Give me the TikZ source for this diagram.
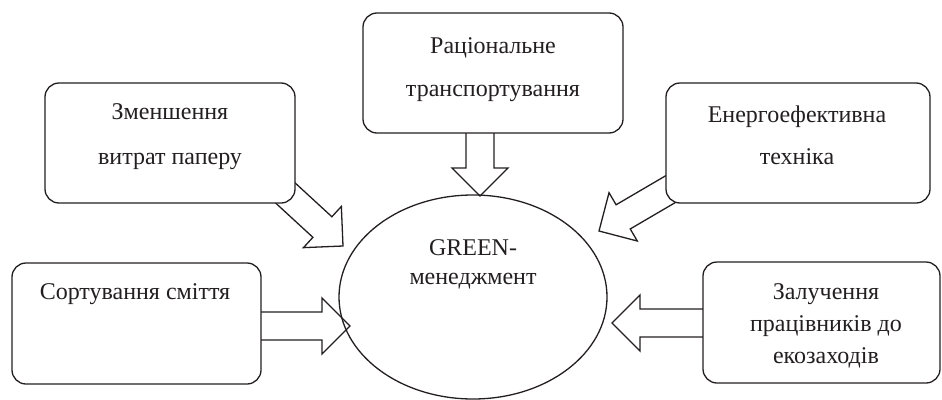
\documentclass[tikz,border=0pt]{standalone}
\usepackage{fontspec}
\setmainfont{Liberation Serif}
\usetikzlibrary{shapes.geometric,calc}
\pgfdeclarelayer{background}
\pgfsetlayers{background,main}
\definecolor{ink}{RGB}{35,31,32}
\newcommand\myfs[1]{\fontsize{24pt}{#1}\selectfont}
\tikzset{
  box/.style={draw=ink, line width=1.3pt, rounded corners=14pt, fill=white, inner sep=0pt},
  txt/.style={text=ink, align=center, inner sep=0pt},
  barrow/.style={draw=ink, line width=1.3pt, fill=white, line join=miter},
}
\newcommand\myblockarrow[2]{%
  \coordinate (hb) at ($(#2)!28pt!(#1)$);
  \draw[barrow] ($(#1)!14pt!90:(#2)$) -- ($(hb)!14pt!90:(#2)$) -- ($(hb)!28pt!90:(#2)$)
    -- (#2) -- ($(hb)!28pt!-90:(#2)$) -- ($(hb)!14pt!-90:(#2)$) -- ($(#1)!14pt!-90:(#2)$);
}
\begin{document}
\begin{tikzpicture}[x=1pt, y=-1pt]
\useasboundingbox (0,0) rectangle (942,399);
% boxes
\node[box, minimum width=250pt, minimum height=120pt] (b1) at (170,143) {};
\node[box, minimum width=260pt, minimum height=120pt] (b2) at (493,73) {};
\node[box, minimum width=264pt, minimum height=120pt] (b3) at (798,143) {};
\node[box, minimum width=249pt, minimum height=121pt] (b4) at (136.5,323.5) {};
\node[box, minimum width=237pt, minimum height=121pt] (b5) at (821.5,322.5) {};
\node[ellipse, draw=ink, line width=1.3pt, minimum width=268pt, minimum height=204pt, inner sep=0pt] (el) at (473,297) {};
% texts
\node[txt, font=\myfs{45pt}] (t1) at (170,137) {Зменшення\\витрат паперу};
\node[txt, font=\myfs{43pt}] (t2) at (493,70) {Раціональне\\транспортування};
\node[txt, font=\myfs{42pt}] (t3) at (797,135.5) {Енергоефективна\\техніка};
\node[txt, font=\myfs{30pt}] (t4) at (135,294) {Сортування сміття};
\node[txt, font=\myfs{32pt}] (t5) at (826,326) {Залучення\\працівників до\\екозаходів};
\node[txt, font=\myfs{29pt}] (t6) at (473,264) {GREEN-\\менеджмент};
% arrow end points
\coordinate (a1s) at (480,122);
\coordinate (a1e) at (480,196);
\coordinate (a2s) at (250,326);
\coordinate (a2e) at (350,326);
\coordinate (a3s) at (712,323);
\coordinate (a3e) at (612,323);
\coordinate (a4s) at (276.7,185);
\coordinate (a4e) at (343,246);
\coordinate (a5s) at (681,183);
\coordinate (a5e) at (599,231);
\begin{pgfonlayer}{background}
\myblockarrow{a1s}{a1e}
\myblockarrow{a2s}{a2e}
\myblockarrow{a3s}{a3e}
\myblockarrow{a4s}{a4e}
\myblockarrow{a5s}{a5e}
\end{pgfonlayer}
\end{tikzpicture}
\end{document}
